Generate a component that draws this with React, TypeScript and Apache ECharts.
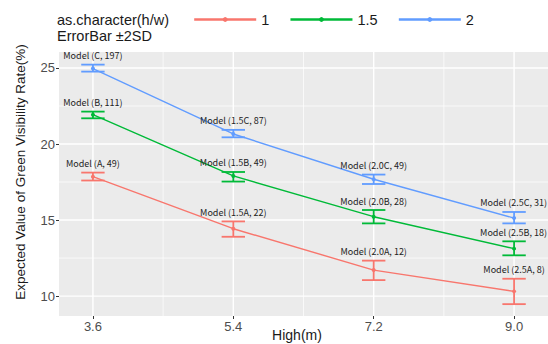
import React, { useEffect, useRef } from "react";
import * as echarts from "echarts";

const heights = [3.6, 5.4, 7.2, 9.0];
const groupNames = ["1", "1.5", "2"];
const groupColors = ["#F8766D", "#00BA38", "#619CFF"];

const mean1 = [17.85, 14.43, 11.71, 10.31];
const lower1 = [17.6, 13.9, 11.05, 9.47];
const upper1 = [18.12, 14.91, 12.33, 11.14];
const labels1 = ["Model (A, 49)", "Model (1.5A, 22)", "Model (2.0A, 12)", "Model (2.5A, 8)"];

const mean15 = [21.93, 17.9, 15.22, 13.12];
const lower15 = [21.69, 17.53, 14.78, 12.68];
const upper15 = [22.13, 18.16, 15.66, 13.6];
const labels15 = ["Model (B, 111)", "Model (1.5B, 49)", "Model (2.0B, 28)", "Model (2.5B, 18)"];

const mean2 = [24.96, 20.66, 17.68, 15.13];
const lower2 = [24.76, 20.44, 17.37, 14.78];
const upper2 = [25.22, 20.93, 17.99, 15.53];
const labels2 = ["Model (C, 197)", "Model (1.5C, 87)", "Model (2.0C, 49)", "Model (2.5C, 31)"];

const xTicks = [3.6, 5.4, 7.2, 9.0];
const xMinorTicks = [4.5, 6.3, 8.1];
const yTicks = [10, 15, 20, 25];
const yMinorTicks = [12.5, 17.5, 22.5];

const X_MIN = 3.165;
const X_MAX = 9.435;
const Y_MIN = 8.69;
const Y_MAX = 26.05;

const WIDTH = 548;
const HEIGHT = 344;
const LABEL_FONT = "9px 'Noto Sans CJK JP'";

const groups = [
  { mean: mean1, lower: lower1, upper: upper1, labels: labels1 },
  { mean: mean15, lower: lower15, upper: upper15, labels: labels15 },
  { mean: mean2, lower: lower2, upper: upper2, labels: labels2 },
];

function measure(text: string): number {
  const c = document.createElement("canvas").getContext("2d");
  if (!c) return text.length * 4.6;
  c.font = LABEL_FONT;
  return c.measureText(text).width;
}

export default function App() {
  const ref = useRef<HTMLDivElement>(null);
  useEffect(() => {
    document.body.style.margin = "0";
    if (!ref.current) return;
    const chart = echarts.init(ref.current, null, { renderer: "svg" });

    const gridData: any[] = [];
    xTicks.forEach((v) => gridData.push([v, 0, 1]));
    xMinorTicks.forEach((v) => gridData.push([v, 0, 0]));
    yTicks.forEach((v) => gridData.push([v, 1, 1]));
    yMinorTicks.forEach((v) => gridData.push([v, 1, 0]));

    const series: any[] = [
      {
        type: "custom",
        name: "grid",
        silent: true,
        z: 0,
        clip: false,
        data: gridData,
        encode: { x: -1, y: -1 },
        renderItem: (params: any, api: any) => {
          const v = api.value(0);
          const horiz = api.value(1) === 1;
          const major = api.value(2) === 1;
          let p1, p2;
          if (!horiz) {
            p1 = api.coord([v, Y_MIN]);
            p2 = api.coord([v, Y_MAX]);
          } else {
            p1 = api.coord([X_MIN, v]);
            p2 = api.coord([X_MAX, v]);
          }
          return {
            type: "line",
            shape: { x1: p1[0], y1: p1[1], x2: p2[0], y2: p2[1] },
            style: { stroke: "#FFFFFF", lineWidth: major ? 1.4 : 0.7 },
          };
        },
      },
    ];

    groups.forEach((g, gi) => {
      series.push({
        type: "line",
        name: groupNames[gi],
        data: heights.map((h, i) => [h, g.mean[i]]),
        symbol: "circle",
        symbolSize: 4,
        z: 3,
        itemStyle: { color: groupColors[gi] },
        lineStyle: { color: groupColors[gi], width: 1.4 },
      });
      series.push({
        type: "custom",
        name: groupNames[gi],
        z: 4,
        clip: false,
        data: heights.map((h, i) => [h, g.lower[i], g.upper[i]]),
        encode: { x: 0, y: [1, 2] },
        renderItem: (params: any, api: any) => {
          const x = api.value(0);
          const lo = api.value(1);
          const hi = api.value(2);
          const pLo = api.coord([x, lo]);
          const pHi = api.coord([x, hi]);
          const xl = api.coord([x - 0.15, hi])[0];
          const xr = api.coord([x + 0.15, hi])[0];
          const st = { stroke: groupColors[gi], lineWidth: 1.8 };
          const text = g.labels[params.dataIndex];
          const half = measure(text) / 2;
          const tx = Math.min(pHi[0], WIDTH - 1 - half);
          return {
            type: "group",
            children: [
              { type: "line", shape: { x1: pLo[0], y1: pLo[1], x2: pHi[0], y2: pHi[1] }, style: st },
              { type: "line", shape: { x1: xl, y1: pHi[1], x2: xr, y2: pHi[1] }, style: st },
              { type: "line", shape: { x1: xl, y1: pLo[1], x2: xr, y2: pLo[1] }, style: st },
              {
                type: "text",
                x: tx,
                y: pHi[1] - 9,
                style: {
                  text,
                  fill: "#222222",
                  fontSize: 9,
                  fontFamily: "Noto Sans CJK JP",
                  align: "center",
                  verticalAlign: "middle",
                },
              },
            ],
          };
        },
      });
    });

    chart.setOption({
      animation: false,
      grid: {
        left: 59,
        right: 0,
        top: 52,
        bottom: 28,
        show: true,
        backgroundColor: "#EBEBEB",
        borderWidth: 0,
      },
      legend: {
        data: groupNames,
        left: 193,
        top: 12,
        padding: 0,
        itemWidth: 62,
        itemHeight: 6,
        itemGap: 20,
        lineStyle: { width: 2.4 },
        textStyle: { fontSize: 14.5, color: "#1a1a1a", fontFamily: "Liberation Sans" },
      },
      xAxis: {
        type: "value",
        min: X_MIN,
        max: X_MAX,
        axisLine: { show: false },
        splitLine: { show: false },
        axisTick: { show: true, customValues: xTicks, length: 3, lineStyle: { color: "#333333" } },
        axisLabel: {
          customValues: xTicks,
          formatter: (v: number) => v.toFixed(1),
          fontSize: 13,
          color: "#4D4D4D",
          fontFamily: "Liberation Sans",
          margin: 4,
        },
      },
      yAxis: {
        type: "value",
        min: Y_MIN,
        max: Y_MAX,
        axisLine: { show: false },
        splitLine: { show: false },
        axisTick: { show: true, customValues: yTicks, length: 3, lineStyle: { color: "#333333" } },
        axisLabel: {
          customValues: yTicks,
          fontSize: 13,
          color: "#4D4D4D",
          fontFamily: "Liberation Sans",
          margin: 4,
        },
      },
      graphic: [
        {
          type: "text",
          left: 57,
          top: 12,
          style: { text: "as.character(h/w)", fontSize: 14.5, fill: "#1a1a1a", fontFamily: "Liberation Sans" },
        },
        {
          type: "text",
          left: 57,
          top: 28,
          style: { text: "ErrorBar ±2SD", fontSize: 14.5, fill: "#1a1a1a", fontFamily: "Liberation Sans" },
        },
        {
          type: "text",
          x: 20,
          y: 172,
          rotation: Math.PI / 2,
          style: {
            text: "Expected Value of Green Visibility Rate(%)",
            fontSize: 13.5,
            fill: "#1a1a1a",
            fontFamily: "Liberation Sans",
            align: "center",
            verticalAlign: "middle",
          },
        },
        {
          type: "text",
          x: 297,
          y: 335,
          style: {
            text: "High(m)",
            fontSize: 14,
            fill: "#1a1a1a",
            fontFamily: "Liberation Sans",
            align: "center",
            verticalAlign: "middle",
          },
        },
      ],
      series,
    });
    return () => chart.dispose();
  }, []);
  return <div ref={ref} style={{ width: WIDTH, height: HEIGHT }} />;
}
